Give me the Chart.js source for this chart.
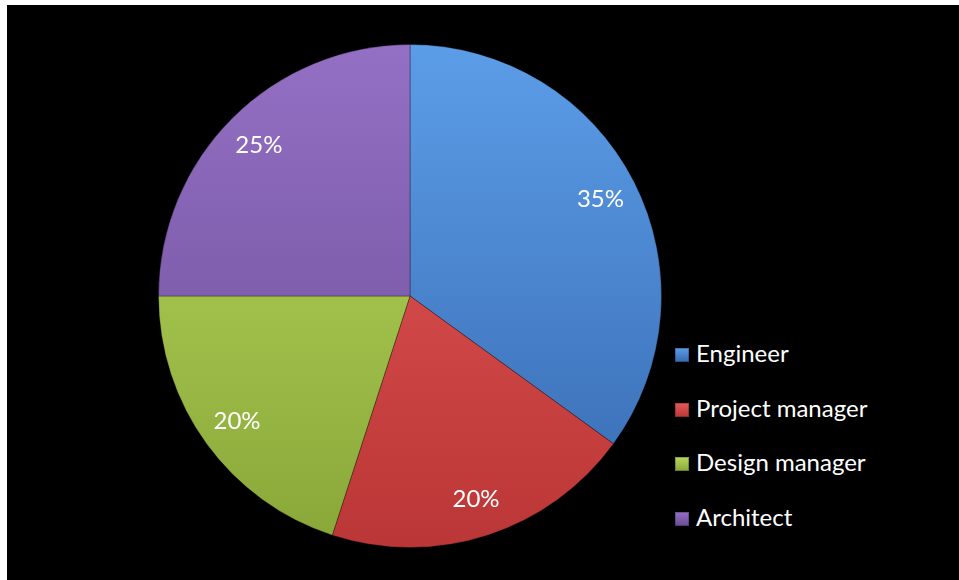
<!DOCTYPE html>
<html>
<head>
<meta charset="utf-8">
<script src="https://cdn.jsdelivr.net/npm/chart.js@4"></script>
<style>
  html, body { margin: 0; padding: 0; background: #fff; }
  body { width: 959px; height: 580px; position: relative; overflow: hidden; }
  #frame { position: absolute; left: 7px; top: 5px; right: 0; bottom: 0; background: #000; }
  #pieBox { position: absolute; left: 141px; top: 29px; width: 524px; height: 524px; }
  #legend { position: absolute; left: 668px; top: 333px; font-family: 'Lato', sans-serif; font-size: 24px; color: #fff; }
  #legend div { height: 54.5px; display: flex; align-items: flex-start; }
  #legend span.sw { width: 14px; height: 14px; margin-right: 7px; margin-top: 10px; display: inline-block; box-shadow: inset 0 0 0 1px rgba(0,0,0,0.25); }
</style>
</head>
<body>
<div id="frame">
  <div id="pieBox"><canvas id="roleChart"></canvas></div>
  <div id="legend"></div>
</div>
<script>
const labels = ['Engineer', 'Project manager', 'Design manager', 'Architect'];
const shares = [35, 20, 20, 25];
const lightColors = ['#5c9de8', '#e65a5a', '#bad95e', '#9470c4'];
const darkColors = ['#3669b0', '#bb3636', '#89a738', '#6a4c96'];

const legendEl = document.getElementById('legend');
labels.forEach(function (name, i) {
  const row = document.createElement('div');
  const sw = document.createElement('span');
  sw.className = 'sw';
  sw.style.background = 'linear-gradient(' + lightColors[i] + ', ' + darkColors[i] + ')';
  row.appendChild(sw);
  row.appendChild(document.createTextNode(name));
  legendEl.appendChild(row);
});

function sliceFill(ctx) {
  const chart = ctx.chart;
  const area = chart.chartArea;
  if (!area) return lightColors[ctx.dataIndex];
  const g = chart.ctx.createLinearGradient(0, area.top, 0, area.bottom);
  g.addColorStop(0, lightColors[ctx.dataIndex]);
  g.addColorStop(1, darkColors[ctx.dataIndex]);
  return g;
}

const percentLabels = {
  id: 'percentLabels',
  afterDatasetsDraw(chart) {
    const c = chart.ctx;
    const meta = chart.getDatasetMeta(0);
    c.save();
    c.fillStyle = '#fff';
    c.font = '24px Lato, sans-serif';
    c.textAlign = 'center';
    c.textBaseline = 'middle';
    meta.data.forEach(function (arc, i) {
      const p = arc.getProps(['x', 'y', 'startAngle', 'endAngle', 'outerRadius'], true);
      const mid = (p.startAngle + p.endAngle) / 2;
      const r = p.outerRadius * 0.85;
      c.fillText(shares[i] + '%', p.x + Math.cos(mid) * r, p.y + Math.sin(mid) * r);
    });
    c.restore();
  }
};

new Chart(document.getElementById('roleChart'), {
  type: 'pie',
  data: {
    labels: labels,
    datasets: [{
      data: shares,
      backgroundColor: sliceFill,
      borderColor: 'rgba(0,0,0,0.3)',
      borderWidth: 1
    }]
  },
  options: {
    responsive: true,
    maintainAspectRatio: false,
    animation: false,
    layout: { padding: 10 },
    plugins: {
      legend: { display: false },
      tooltip: { enabled: false }
    }
  },
  plugins: [percentLabels]
});
</script>
</body>
</html>
